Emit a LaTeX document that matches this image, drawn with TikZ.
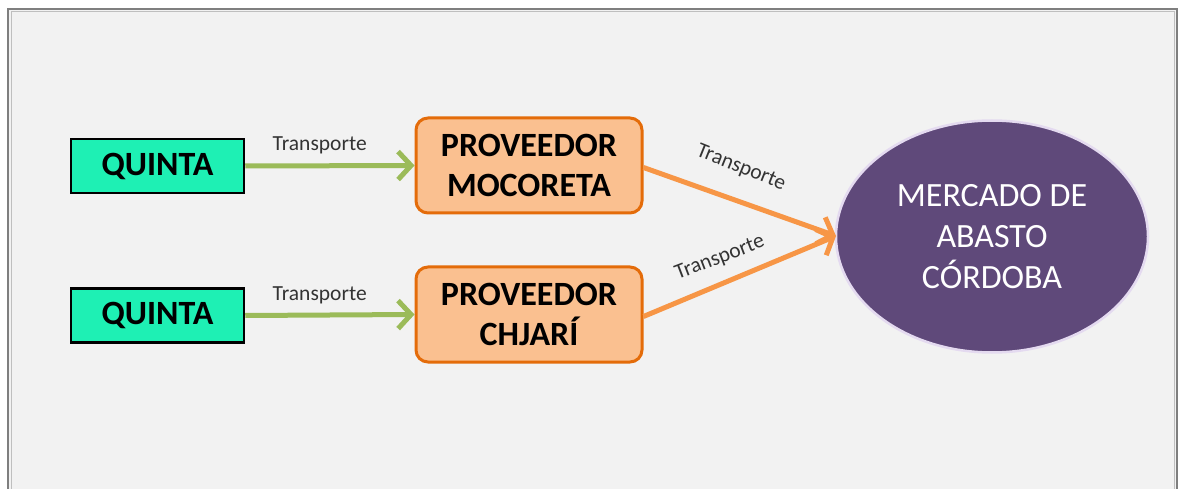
\documentclass[tikz,border=0pt]{standalone}
\usepackage{fontspec}
\setmainfont{Carlito}
\usetikzlibrary{arrows.meta,shapes.geometric}
\definecolor{bgc}{HTML}{F2F2F2}
\definecolor{framec}{HTML}{7F7F7F}
\definecolor{quintac}{HTML}{1EF0B4}
\definecolor{provfill}{HTML}{FAC090}
\definecolor{provline}{HTML}{E46C0A}
\definecolor{greenar}{HTML}{9BBB59}
\definecolor{orangear}{HTML}{F79646}
\definecolor{purplec}{HTML}{5F497A}
\definecolor{purpleline}{HTML}{E4DAF0}
\tikzset{
  quintabox/.style={draw=black, line width=2.5pt, fill=quintac, minimum width=173pt, minimum height=54pt, inner sep=0pt, font=\fontsize{34}{36}\selectfont\bfseries},
  provbox/.style={draw=provline, line width=3pt, fill=provfill, rounded corners=12pt, minimum width=226pt, minimum height=95pt, inner sep=0pt, align=center, font=\fontsize{34}{40}\selectfont\bfseries},
  mercado/.style={ellipse, draw=purpleline, line width=2.5pt, fill=purplec, minimum width=312pt, minimum height=232pt, inner sep=0pt, align=center, text=white, font=\fontsize{34}{41}\selectfont},
  greenarrow/.style={draw=greenar, line width=5pt, -{Straight Barb[length=13pt,width=28pt]}},
  orangearrow/.style={draw=orangear, line width=5pt, -{Straight Barb[length=13pt,width=28pt]}},
  lbl/.style={font=\fontsize{21.5}{24}\selectfont, text=black!80, inner sep=1pt}
}
\begin{document}
\begin{tikzpicture}[x=1pt,y=-1pt]
\useasboundingbox (0,0) rectangle (1181,489);
\fill[white] (0,0) rectangle (1181,489);
\draw[framec, line width=2pt, fill=bgc] (8,9) rectangle (1177,500);
\draw[black!25, line width=1pt] (11,12) rectangle (1174,500);
\node[quintabox] (q1) at (157.5,166) {QUINTA};
\node[quintabox] (q2) at (157.5,315.5) {QUINTA};
\node[provbox] (p1) at (529,165.5) {PROVEEDOR\\MOCORETA};
\node[provbox] (p2) at (529,314.5) {PROVEEDOR\\CHJARÍ};
\node[mercado] (m) at (992,236.5) {MERCADO DE\\ABASTO\\CÓRDOBA};
\coordinate (mt) at (836,236);
\draw[greenarrow] (q1.east) -- (p1.west) node[lbl, pos=0.44, above=8pt] {Transporte};
\draw[greenarrow] (q2.east) -- (p2.west) node[lbl, pos=0.44, above=8pt] {Transporte};
\draw[orangearrow] (p1.east) ++(0,2) -- (mt);
\draw[orangearrow] (p2.east) ++(0,2) -- (mt);
\node[lbl, rotate=-22] (t1) at (741,168) {Transporte};
\node[lbl, rotate=21] (t2) at (720,258) {Transporte};
\end{tikzpicture}
\end{document}
